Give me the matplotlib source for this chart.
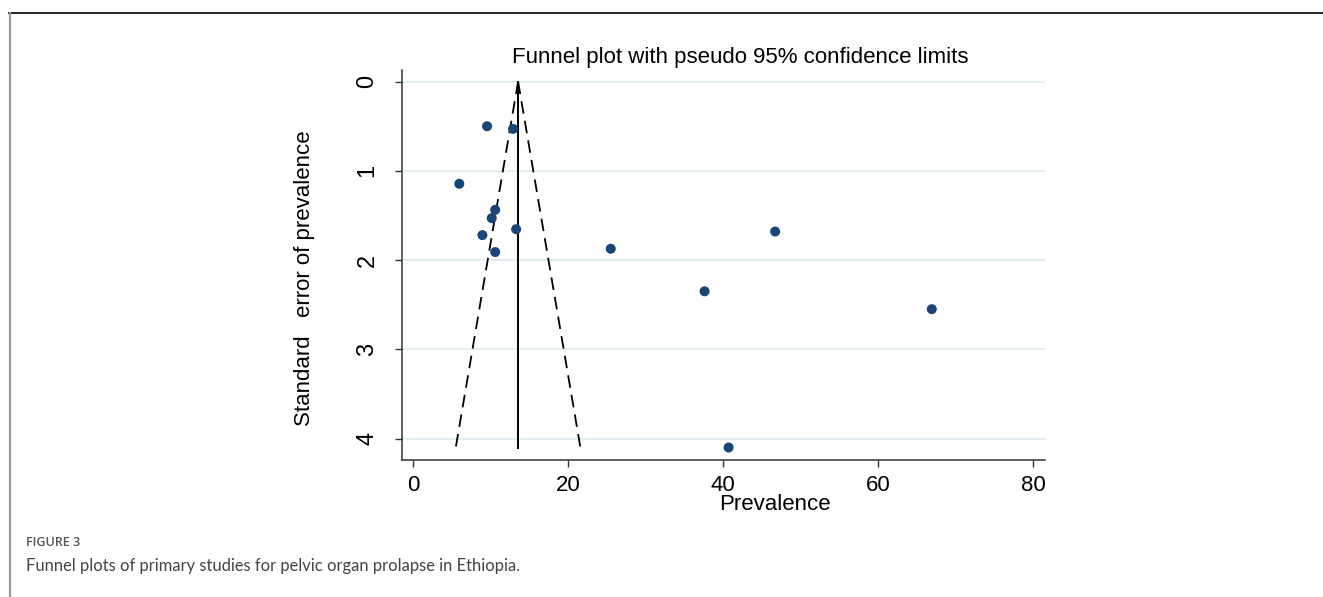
#!/usr/bin/env python3
# -*- coding: utf-8 -*-
"""
Funnel plot with pseudo 95% confidence limits (prevalence vs standard error)
"""

import matplotlib
matplotlib.use('Agg')
import matplotlib.pyplot as plt
from matplotlib.lines import Line2D
import numpy as np

# 各研究の有病率と標準誤差
prevalence = [9.55, 12.9, 5.97, 10.6, 10.15, 8.95, 13.3, 10.6, 25.5,
              46.7, 37.6, 66.9, 40.7]
std_error = [0.50, 0.53, 1.145, 1.437, 1.53, 1.72, 1.654, 1.91, 1.873,
             1.68, 2.35, 2.55, 4.10]

# 統合推定値と最大の標準誤差
pooled = 13.55
se_max = 4.10

x_ticks = [0, 20, 40, 60, 80]
y_ticks = [0, 1, 2, 3, 4]

title = 'Funnel plot with pseudo 95% confidence limits'
x_label = 'Prevalence'
y_label = 'Standard   error of prevalence'
fig_label = 'FIGURE 3'
caption = 'Funnel plots of primary studies for pelvic organ prolapse in Ethiopia.'

plt.rcParams['font.family'] = ['Liberation Sans', 'DejaVu Sans']

W, H = 1323, 597
fig = plt.figure(figsize=(W / 100, H / 100), dpi=100)
fig.patch.set_facecolor('white')

# 外枠（上と左のみ）
fig.add_artist(Line2D([9 / W, 1.0], [1 - 13 / H, 1 - 13 / H],
                      color='#222222', linewidth=1.4, transform=fig.transFigure))
fig.add_artist(Line2D([9.5 / W, 9.5 / W], [0.0, 1 - 13 / H],
                      color='#9a9a9a', linewidth=1.6, transform=fig.transFigure))

ax = fig.add_axes([402 / W, 1 - 460 / H, (1045 - 402) / W, (460 - 70) / H])

# グリッド線
for yv in y_ticks:
    ax.axhline(yv, color='#e4eef2', linewidth=1.6, zorder=0)

# 擬似95%信頼限界
se_line = np.array([0.0, se_max])
ax.plot(pooled - 1.96 * se_line, se_line, color='black', linewidth=1.3,
        linestyle=(0, (7, 4)), zorder=2)
ax.plot(pooled + 1.96 * se_line, se_line, color='black', linewidth=1.3,
        linestyle=(0, (7, 4)), zorder=2)
ax.plot([pooled, pooled], [0, se_max], color='black', linewidth=1.4, zorder=2)

ax.scatter(prevalence, std_error, s=52, color='#1a4677', edgecolors='none', zorder=3)

ax.set_xlim(-1.42, 81.5)
ax.set_ylim(4.24, -0.13)
ax.set_xticks(x_ticks)
ax.set_yticks(y_ticks)

for side in ['top', 'right']:
    ax.spines[side].set_visible(False)
for side in ['left', 'bottom']:
    ax.spines[side].set_color('#333333')
    ax.spines[side].set_linewidth(1.1)

ax.tick_params(axis='both', direction='out', length=5, width=1.0,
               color='#333333', labelcolor='black')
ax.tick_params(axis='x', pad=6, labelsize=16)
ax.tick_params(axis='y', pad=12, labelsize=17)
for lab in ax.get_yticklabels():
    lab.set_rotation(90)
    lab.set_va('center')
    lab.set_ha('right')

ax.text(0.58, (460 - 504) / 390, x_label, transform=ax.transAxes,
        ha='center', va='center', fontsize=16)
ax.text(-0.151, (460 - 278) / 390, y_label, transform=ax.transAxes,
        ha='center', va='center', rotation=90, fontsize=16)

fig.text(740 / W, 1 - 57 / H, title, ha='center', va='center', fontsize=16)

# キャプション
fig.text(26 / W, 1 - 543 / H, fig_label, ha='left', va='center', fontsize=9,
         color='#555555', family=['Open Sans', 'DejaVu Sans'], fontweight='semibold')
fig.text(26 / W, 1 - 566 / H, caption, ha='left', va='center', fontsize=11.9,
         color='#444444', family=['Lato', 'DejaVu Sans'])

fig.savefig('out.png', dpi=100, facecolor='white')
